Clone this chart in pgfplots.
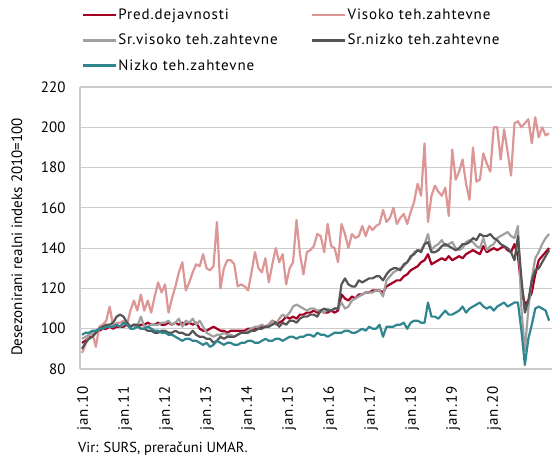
\documentclass[border=0pt]{standalone}
\usepackage{fontspec}
\setmainfont{PT Sans}
\newfontfamily\lsfont{PT Sans}[LetterSpace=6]
\usepackage{pgfplots}
\usepackage{pgfplotstable}
\pgfplotsset{compat=1.18}
\definecolor{cRed}{RGB}{165,0,33}
\definecolor{cPink}{RGB}{221,150,150}
\definecolor{cLGray}{RGB}{160,160,160}
\definecolor{cDGray}{RGB}{85,85,85}
\definecolor{cTeal}{RGB}{49,133,143}
\definecolor{cGrid}{RGB}{204,204,204}
\newcommand{\mf}{\fontsize{15}{18}\selectfont}
\newcommand{\lf}{\lsfont\fontsize{15}{18}\selectfont}
\pgfplotstableread{
t red pink lgray dgray teal
0 93 88 95 90 97
1 94 92 96 93 98
2 96 97 97 95 98
3 96 98 98 96 99
4 98 91 99 98 99
5 99 101 100 100 100
6 100 102 100 101 100
7 100 104 101 102 101
8 101 111 101 102 101
9 100 101 101 103 101
10 101 103 102 106 102
11 101 103 101 107 101
12 101 104 102 106 103
13 102 102 103 103 102
14 101 109 101 101 100
15 102 114 102 102 100
16 101 109 101 102 101
17 102 117 106 100 100
18 102 109 101 100 100
19 103 114 101 99 101
20 102 108 102 99 100
21 102 116 102 98 99
22 103 123 102 98 99
23 102 118 103 99 98
24 102 122 103 99 98
25 103 108 104 98 97
26 102 115 102 98 97
27 103 121 103 99 96
28 102 128 105 98 95
29 103 133 101 98 94
30 102 119 104 97 95
31 103 123 103 97 95
32 102 128 105 99 94
33 103 132 102 97 94
34 100 131 104 96 93
35 99 137 101 96 92
36 99 130 98 95 93
37 100 129 97 95 91
38 101 131 96 93 92
39 100 153 97 94 94
40 99 120 97 96 93
41 99 130 98 95 92
42 98 134 97 96 93
43 99 134 97 96 93
44 99 132 96 96 92
45 99 121 97 97 92
46 99 122 98 98 93
47 99 121 98 98 93
48 100 119 99 98 94
49 100 128 100 99 94
50 100 138 101 99 93
51 101 130 101 100 93
52 101 128 102 100 94
53 101 135 101 101 95
54 102 123 102 101 94
55 104 132 104 102 94
56 103 140 102 103 95
57 103 133 105 101 95
58 104 137 107 103 94
59 106 122 106 102 95
60 105 130 108 104 96
61 106 133 111 104 96
62 105 154 112 103 95
63 107 137 111 105 96
64 107 127 110 106 96
65 108 138 109 106 97
66 108 139 110 107 97
67 109 141 110 107 96
68 108 147 109 106 98
69 109 146 109 109 97
70 108 138 108 110 97
71 108 152 110 109 96
72 109 141 109 109 97
73 108 140 110 110 98
74 109 133 110 110 98
75 117 152 113 122 98
76 115 147 110 125 99
77 114 140 111 122 99
78 116 147 114 121 98
79 115 145 115 121 98
80 117 146 116 124 99
81 117 151 117 123 100
82 118 146 118 124 99
83 118 151 118 125 101
84 119 149 118 125 100
85 119 151 119 126 100
86 119 152 119 126 102
87 118 159 116 124 96
88 121 153 124 127 101
89 122 155 126 129 101
90 123 160 128 130 101
91 124 152 129 130 102
92 124 155 130 129 102
93 126 157 131 132 103
94 127 152 133 133 100
95 129 158 135 136 103
96 130 163 138 137 104
97 131 172 139 139 104
98 133 166 139 138 103
99 134 192 142 142 103
100 137 153 147 143 113
101 132 166 139 138 106
102 133 171 141 138 106
103 134 168 142 139 105
104 135 166 144 141 107
105 134 170 141 142 109
106 136 156 142 141 107
107 134 189 143 140 107
108 135 174 140 139 108
109 136 178 139 140 109
110 135 184 140 142 111
111 137 172 143 142 108
112 138 164 144 143 110
113 139 190 143 145 111
114 138 173 141 144 112
115 137 174 140 147 113
116 141 187 145 146 111
117 138 182 139 146 110
118 139 178 141 147 111
119 140 200 142 145 109
120 139 200 145 144 111
121 140 184 146 142 112
122 141 199 147 141 113
123 139 188 148 140 111
124 138 176 146 138 112
125 142 202 145 134 113
126 136 203 151 146 113
127 120 200 110 125 99
128 112 202 89 108 82
129 114 204 110 114 95
130 118 192 125 124 102
131 127 205 135 129 110
132 134 195 138 130 111
133 136 200 142 133 110
134 138 196 145 136 109
135 140 197 147 139 104
}\datatable
\begin{document}
\begin{tikzpicture}
\useasboundingbox (-80pt,-92pt) rectangle (472pt,369pt);
\begin{axis}[
  at={(0pt,0pt)}, anchor=south west,
  width=472pt, height=282pt, scale only axis,
  xmin=-0.58, xmax=135.84, ymin=80, ymax=220,
  ytick={80,100,...,220},
  xtick={0,11.85,23.7,35.55,47.4,59.25,71.1,82.95,94.8,106.65,118.5},
  xticklabels={jan.10,jan.11,jan.12,jan.13,jan.14,jan.15,jan.16,jan.17,jan.18,jan.19,jan.20},
  /pgf/number format/assume math mode=true,
  y tick label style={font=\mf, xshift=-11pt},
  x tick label style={font=\lf, xshift=2pt, yshift=-14pt, rotate=90, anchor=east},
  major tick length=0pt,
  axis lines*=left,
  axis line style={cGrid, line width=1.2pt},
  ymajorgrids,
  grid style={cGrid, line width=1.2pt},
  clip=true,
  legend columns=2,
  legend cell align=left,
  legend image code/.code={\draw[#1] (0pt,0pt) -- (33pt,0pt);},
  legend style={at={(rel axis cs:0,1)}, anchor=north west, xshift=2pt, yshift=79pt,
    draw=none, fill=none, inner sep=0pt, font=\lf, row sep=11pt,
    nodes={inner sep=1pt}},
  every axis plot/.append style={line width=2.2pt, line join=round},
]
\addplot[cRed] table[x=t,y=red]{\datatable};
\addlegendentry{\makebox[192pt][l]{Pred.dejavnosti}}
\addplot[cPink] table[x=t,y=pink]{\datatable};
\addlegendentry{Visoko teh.zahtevne}
\addplot[cLGray] table[x=t,y=lgray]{\datatable};
\addlegendentry{\makebox[192pt][l]{Sr.visoko teh.zahtevne}}
\addplot[cDGray] table[x=t,y=dgray]{\datatable};
\addlegendentry{Sr.nizko teh.zahtevne}
\addplot[cTeal] table[x=t,y=teal]{\datatable};
\addlegendentry{\makebox[192pt][l]{Nizko teh.zahtevne}}
\end{axis}
\node[rotate=90, font=\mf] at (-63pt,132pt) {Desezonirani realni indeks 2010=100};
\node[anchor=base west, inner sep=0pt, font=\fontsize{14.5}{17}\selectfont] at (-2pt,-83pt) {Vir: SURS, preračuni UMAR.};
\end{tikzpicture}
\end{document}
